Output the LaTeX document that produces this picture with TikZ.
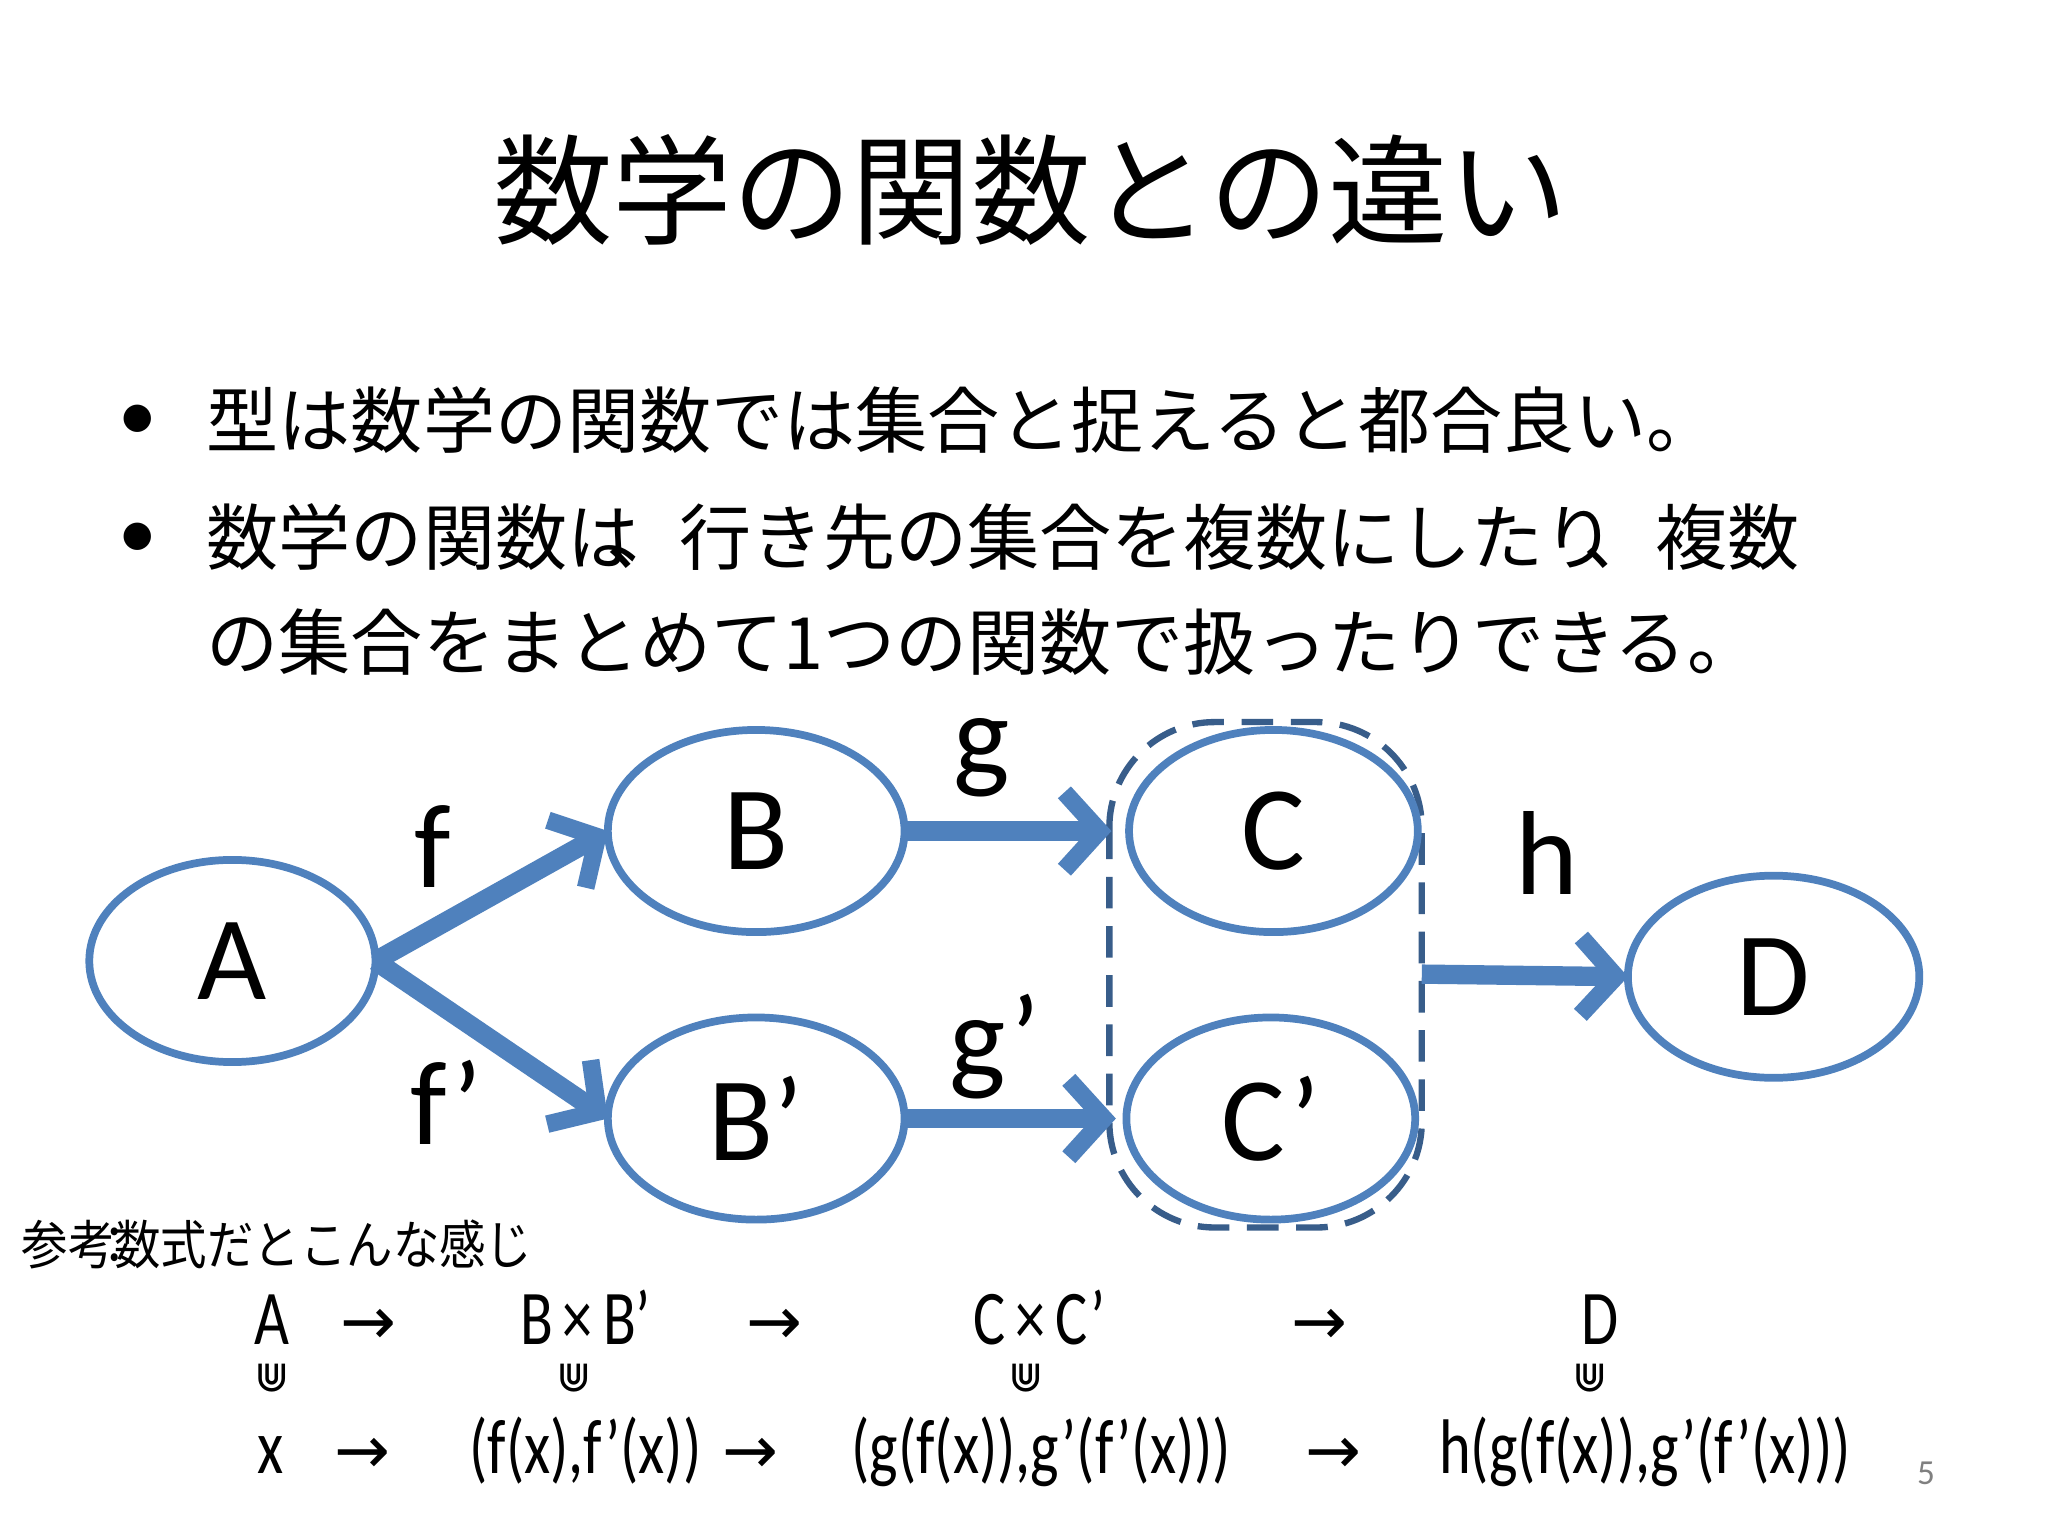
\documentclass[tikz,border=0pt]{standalone}
\usepackage{fontspec}
\setmainfont{Carlito}
\newfontfamily\jp{Noto Sans CJK JP}
\newfontfamily\djv{DejaVu Sans}
\usetikzlibrary{arrows.meta}
\definecolor{blu}{HTML}{4F81BD}
\definecolor{dblu}{HTML}{385D8A}
\newcommand{\narrow}[1]{\scalebox{0.78}[1]{#1}}
\begin{document}
\begin{tikzpicture}[x=0.013128cm,y=-0.013128cm,
  big/.style={font=\fontsize{34}{34}\selectfont},
  arr/.style={blu,line width=5.5pt,-{Straight Barb[length=10pt,width=22pt,line width=5pt]}},
  fx/.style={font=\fontsize{22}{22}\selectfont,anchor=base},
  sym/.style={font=\djv\fontsize{19}{19}\selectfont,anchor=base}]
\useasboundingbox[fill=white] (0,0) rectangle (1560,1170);
\node[font=\jp\fontsize{34}{34}\selectfont] (title) at (785,145) {数学の関数との違い};
\node[font=\fontsize{22}{22}\selectfont] (b1) at (105,322) {•};
\node[font=\fontsize{22}{22}\selectfont] (b2) at (105,412) {•};
\node[font=\jp\fontsize{20.5}{32}\selectfont,anchor=west,inner sep=0pt] (t1) at (157,320) {型は数学の関数では集合と捉えると都合良い。};
\node[font=\jp\fontsize{20.5}{30}\selectfont,anchor=north west,align=left,inner sep=0pt] (t2) at (157,383) {数学の関数は\hspace{-0.45em}、行き先の集合を複数にしたり\hspace{-0.45em}、複数\\の集合をまとめて1つの関数で扱ったりできる。};
% dashed box
\draw[dblu,line width=1.8pt,dash pattern=on 9pt off 5pt,rounded corners=30] (845,550) rectangle (1083,935);
\coordinate (boxE) at (1083,742);
\foreach \n/\x/\y/\rx in {A/177/732/109, B/576/633/113, Bp/576/852/113, C/970/633/110, Cp/968/852/110, D/1351/744/111}{
  \draw[blu,line width=2.2pt,fill=white] (\x,\y) ellipse [x radius=\rx,y radius=77];
  \coordinate (\n) at (\x,\y);
  \coordinate (\n W) at (\x-\rx,\y);
  \coordinate (\n E) at (\x+\rx,\y);
}
\node[big] (lA) at (A) {A};
\node[big] (lB) at (B) {B};
\node[big] (lBp) at (Bp) {B’};
\node[big] (lC) at (C) {C};
\node[big] (lCp) at (Cp) {C’};
\node[big] (lD) at (D) {D};
\draw[arr] (AE) -- (BW);
\draw[arr] (AE) -- (BpW);
\draw[arr] (BE) -- ([xshift=-5]CW);
\draw[arr] (BpE) -- ([xshift=-3]CpW);
\draw[arr] (boxE) -- (DW);
\node[big] (f) at (330,645) {f};
\node[big] (fp) at (340,840) {f’};
\node[big] (g) at (748,577) {g};
\node[big] (gp) at (758,797) {g’};
\node[big] (h) at (1178,650) {h};
% reference
\node[font=\jp\fontsize{15}{15}\selectfont,anchor=west,inner sep=0pt] (ref) at (16,948) {\scalebox{0.88}[1]{参考\hspace{-0.5em}：\hspace{-0.5em}数式だとこんな感じ}};
\node[fx] (r1a) at (207,1024) {\narrow{A}};
\node[sym] (r1b) at (281,1024) {→};
\node[fx] (r1c) at (446,1024) {\narrow{B\,×\,B’}};
\node[sym] (r1d) at (590,1024) {→};
\node[fx] (r1e) at (792,1024) {\narrow{C\,×\,C’}};
\node[sym] (r1f) at (1005,1024) {→};
\node[fx] (r1g) at (1219,1024) {\narrow{D}};
\foreach \x in {207,437,782,1211}{\node[font=\djv\fontsize{12}{12}\selectfont] at (\x,1050) {⋓};}
\node[fx] (r2a) at (206,1122) {\narrow{x}};
\node[sym] (r2b) at (276,1122) {→};
\node[fx] (r2c) at (446,1122) {\narrow{(f(x),f’(x))}};
\node[sym] (r2d) at (572,1122) {→};
\node[fx] (r2e) at (793,1122) {\narrow{(g(f(x)),g’(f’(x)))}};
\node[sym] (r2f) at (1016,1122) {→};
\node[fx] (r2g) at (1253,1122) {\narrow{h(g(f(x)),g’(f’(x)))}};
\node[font=\fontsize{10}{10}\selectfont,text=gray] (pg) at (1467,1122) {5};
\end{tikzpicture}
\end{document}
